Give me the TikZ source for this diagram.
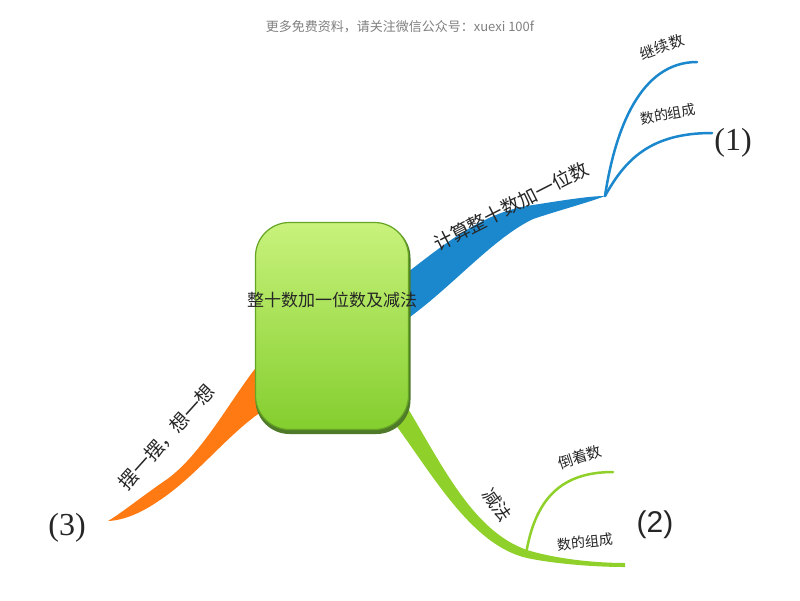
\documentclass[tikz,border=0pt]{standalone}
\usepackage{fontspec}
\setmainfont{Liberation Serif}
\newfontfamily\cjk{Noto Sans CJK SC}
\newfontfamily\sansf{Liberation Sans}
\definecolor{rbblue}{HTML}{1B87CC}
\definecolor{rbgreen}{HTML}{8FD12A}
\definecolor{rborange}{HTML}{FF7A12}
\definecolor{boxtop}{HTML}{C8F27C}
\definecolor{boxbot}{HTML}{84CE2E}
\definecolor{boxedge}{HTML}{66A424}
\definecolor{boxshadow}{HTML}{4E7A2A}
\definecolor{txt}{HTML}{262626}
\begin{document}
\begin{tikzpicture}[x=1pt,y=-1pt,
  lbl/.style={font=\cjk, text=txt, inner sep=0pt},
  num/.style={font=\fontsize{32}{34}\selectfont, text=txt, inner sep=0pt},
  twig/.style={line width=2.5pt, line cap=round}]
\useasboundingbox[fill=white] (0,0) rectangle (800,600);

\node[font=\cjk\fontsize{13}{15}\selectfont, text=gray] (wm) at (400,27) {更多免费资料，请关注微信公众号：xuexi 100f};

% coordinates
\coordinate (fork1) at (605,196);
\coordinate (fork2) at (526,554);
\coordinate (end3) at (108,521);

% blue ribbon
\fill[rbblue] (395,282) .. controls (440,248) and (480,212) .. (533,205)
  .. controls (565,200) and (590,196) .. (fork1)
  .. controls (590,202) and (560,210) .. (533,219)
  .. controls (490,240) and (450,290) .. (400,324) -- cycle;
\draw[twig, rbblue] (fork1) .. controls (615,130) and (640,62) .. (697,62) coordinate (e11);
\draw[twig, rbblue] (fork1) .. controls (625,160) and (650,133) .. (712,133) coordinate (e12);

% green ribbon
\fill[rbgreen] (398,392) .. controls (440,460) and (470,530) .. (527,550)
  .. controls (560,560) and (600,563) .. (625,563)
  -- (625,567) .. controls (590,567) and (550,563) .. (527,558)
  .. controls (470,545) and (430,470) .. (392,420) -- cycle;
\draw[twig, rbgreen] (fork2) .. controls (535,500) and (560,472) .. (613,472) coordinate (e21);

% orange ribbon
\fill[rborange] (258,365) .. controls (230,400) and (200,458) .. (163,482)
  .. controls (140,498) and (120,514) .. (end3)
  .. controls (130,520) and (150,507) .. (163,498)
  .. controls (200,472) and (230,432) .. (264,410) -- cycle;

% central box
\node[fill=boxshadow, rounded corners=34pt, minimum width=155pt, minimum height=210pt,
  inner sep=0pt] (shadow) at (333,329) {};
\node[draw=boxedge, line width=1.2pt, rounded corners=34pt, top color=boxtop, bottom color=boxbot,
  minimum width=153pt, minimum height=207pt, inner sep=0pt] (center) at (332,326) {};
\node[lbl, font=\cjk\fontsize{17}{19}\selectfont] (title) at (332,300) {整十数加一位数及减法};

% labels
\node[lbl, font=\cjk\fontsize{19}{21}\selectfont, rotate=27] (b1) at (511,206) {计算整十数加一位数};
\node[lbl, font=\cjk\fontsize{15}{17}\selectfont, rotate=20] (b11) at (662,47) {继续数};
\node[lbl, font=\cjk\fontsize{14}{16}\selectfont, rotate=10] (b12) at (668,114) {数的组成};
\node[num] (n1) at (733,143) {(1)};

\node[lbl, font=\cjk\fontsize{18}{20}\selectfont, rotate=-55] (b2) at (497,505) {减法};
\node[lbl, font=\cjk\fontsize{15}{17}\selectfont, rotate=18] (b21) at (580,457) {倒着数};
\node[lbl, font=\cjk\fontsize{14}{16}\selectfont, rotate=6] (b22) at (585,542) {数的组成};
\node[num, font=\sansf\fontsize{30}{32}\selectfont] (n2) at (655,525) {(2)};

\node[lbl, font=\cjk\fontsize{19}{21}\selectfont, rotate=48] (b3) at (167,437) {摆一摆，想一想};
\node[num] (n3) at (67,528) {(3)};
\end{tikzpicture}
\end{document}
